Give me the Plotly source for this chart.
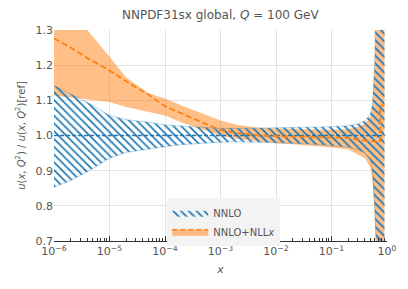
import plotly.graph_objects as go

# ---- data ----
x_band = [1e-6, 2e-6, 4e-6, 1e-5, 2e-5, 5e-5, 1e-4, 2e-4, 5e-4, 1e-3, 2e-3, 5e-3,
          1e-2, 2e-2, 5e-2, 0.1, 0.2, 0.3, 0.4, 0.5, 0.55, 0.6, 0.63, 0.66, 0.7,
          0.75, 0.8, 0.85, 0.9]

nnlo_upper = [1.142, 1.118, 1.094, 1.057, 1.045, 1.038, 1.030, 1.027, 1.022, 1.020,
              1.020, 1.021, 1.022, 1.022, 1.023, 1.025, 1.028, 1.033, 1.042, 1.060,
              1.090, 1.200, 1.400, 1.600, 1.600, 1.600, 1.600, 1.600, 1.600]
nnlo_lower = [0.853, 0.872, 0.897, 0.935, 0.952, 0.962, 0.968, 0.974, 0.979, 0.981,
              0.982, 0.981, 0.980, 0.978, 0.975, 0.972, 0.967, 0.960, 0.950, 0.930,
              0.900, 0.800, 0.600, 0.400, 0.400, 0.400, 0.400, 0.400, 0.400]
nnlo_x_center = [1e-6, 0.9]
nnlo_center = [1.0, 1.0]

nll_upper = [1.360, 1.330, 1.300, 1.224, 1.165, 1.120, 1.105, 1.085, 1.062, 1.043,
             1.030, 1.022, 1.020, 1.019, 1.017, 1.016, 1.018, 1.025, 1.035, 1.052,
             1.090, 1.200, 1.350, 1.600, 1.600, 1.600, 1.600, 1.600, 1.600]
nll_lower = [1.114, 1.108, 1.104, 1.095, 1.081, 1.068, 1.057, 1.037, 1.016, 1.000,
             0.990, 0.982, 0.978, 0.975, 0.970, 0.966, 0.960, 0.945, 0.935, 0.910,
             0.870, 0.780, 0.650, 0.300, 0.300, 0.300, 0.300, 0.300, 0.300]
nll_x_center = [1e-6, 2e-6, 4e-6, 1e-5, 2e-5, 5e-5, 1e-4, 2e-4, 5e-4, 1e-3, 2e-3,
                5e-3, 1e-2, 2e-2, 5e-2, 0.1, 0.2, 0.3, 0.4, 0.5, 0.6, 0.7, 0.745,
                0.755, 0.85, 0.9]
nll_center = [1.276, 1.250, 1.220, 1.185, 1.154, 1.117, 1.083, 1.062, 1.036, 1.015,
              1.007, 1.000, 0.998, 0.997, 0.996, 0.995, 0.993, 0.988, 0.986, 0.985,
              0.983, 0.982, 0.981, 1.085, 1.085, 1.085]

x_ticks = [1e-6, 1e-5, 1e-4, 1e-3, 1e-2, 1e-1, 1]
x_tick_text = ["10<sup>−6</sup>", "10<sup>−5</sup>", "10<sup>−4</sup>", "10<sup>−3</sup>",
               "10<sup>−2</sup>", "10<sup>−1</sup>", "10<sup>0</sup>"]
y_ticks = [0.7, 0.8, 0.9, 1.0, 1.1, 1.2, 1.3]

BLUE = "#1f77b4"
ORANGE = "#ff7f0e"
ORANGE_FILL = "rgba(255,127,14,0.5)"
TXT = "#555555"
FONT = "DejaVu Sans"
HATCH = dict(shape="\\", fgcolor=BLUE, bgcolor="rgba(0,0,0,0)", fgopacity=1,
             size=5.5, solidity=0.3)

fig = go.Figure()

# NNLO+NLLx band (orange)
fig.add_trace(go.Scatter(x=x_band, y=nll_lower, mode="lines", line=dict(width=0),
                         showlegend=False, hoverinfo="skip"))
fig.add_trace(go.Scatter(x=x_band, y=nll_upper, mode="lines", line=dict(width=0),
                         fill="tonexty", fillcolor=ORANGE_FILL, showlegend=False,
                         hoverinfo="skip"))

# NNLO band (blue hatch)
fig.add_trace(go.Scatter(x=x_band, y=nnlo_lower, mode="lines",
                         line=dict(width=1, color="rgba(31,119,180,0.3)"),
                         showlegend=False, hoverinfo="skip"))
fig.add_trace(go.Scatter(x=x_band, y=nnlo_upper, mode="lines",
                         line=dict(width=1, color="rgba(31,119,180,0.3)"),
                         fill="tonexty", fillcolor="rgba(0,0,0,0)",
                         fillpattern=HATCH, showlegend=False, hoverinfo="skip"))

# center lines
fig.add_trace(go.Scatter(x=nnlo_x_center, y=nnlo_center, mode="lines",
                         line=dict(color=BLUE, width=1.5, dash="4px,2px"),
                         showlegend=False))
fig.add_trace(go.Scatter(x=nll_x_center, y=nll_center, mode="lines",
                         line=dict(color=ORANGE, width=1.8, dash="6px,3px"),
                         showlegend=False))

# legend entries
fig.add_trace(go.Scatter(x=[None], y=[None], mode="lines", name="NNLO",
                         line=dict(width=0, color=BLUE), fill="toself",
                         fillcolor="rgba(0,0,0,0)", fillpattern=HATCH))
fig.add_trace(go.Scatter(x=[None], y=[None], mode="lines", name="NNLO+NLL<i>x</i>",
                         line=dict(width=1.5, color=ORANGE, dash="5px,3px"),
                         fill="toself", fillcolor=ORANGE_FILL))

fig.update_layout(
    width=408, height=289,
    margin=dict(l=54, r=21, t=30, b=48, autoexpand=False),
    paper_bgcolor="white", plot_bgcolor="white",
    font=dict(family=FONT, size=11, color=TXT),
    title=dict(text="NNPDF31sx global, <i>Q</i> = 100 GeV", x=0.54, xanchor="center",
               y=0.95, yanchor="middle", font=dict(size=12, color=TXT)),
    legend=dict(x=0.34, y=-0.025, xanchor="left", yanchor="bottom",
                bgcolor="#f3f3f3", font=dict(size=10, color=TXT),
                itemwidth=36, tracegroupgap=0, traceorder="normal"),
    showlegend=True,
)

fig.update_xaxes(type="log", range=[-6, 0], tickvals=x_ticks, ticktext=x_tick_text,
                 showgrid=True, gridcolor="#e3e3e3", gridwidth=1, automargin=False,
                 showline=True, linecolor="#333333", linewidth=1.2,
                 ticks="inside", ticklen=5, tickcolor="#333333",
                 minor=dict(ticks="inside", ticklen=3, tickcolor="#333333",
                            dtick="D1", showgrid=False),
                 tickfont=dict(size=11, color=TXT), zeroline=False,
                 title=dict(text="<i>x</i>", font=dict(size=11, color=TXT), standoff=8))
fig.update_yaxes(range=[0.7, 1.3], tickvals=y_ticks, tickformat=".1f",
                 showgrid=True, gridcolor="#e3e3e3", gridwidth=1, automargin=False,
                 showline=False, ticks="", zeroline=False,
                 tickfont=dict(size=11, color=TXT),
                 title=dict(text="<i>u</i>(<i>x</i>, <i>Q</i><sup>2</sup>) / <i>u</i>(<i>x</i>, <i>Q</i><sup>2</sup>)[ref]",
                            font=dict(size=10, color=TXT), standoff=8))

fig.write_html("out.html", config={"displayModeBar": False},
               post_script="document.body.style.margin='0';document.body.style.overflow='hidden';")
